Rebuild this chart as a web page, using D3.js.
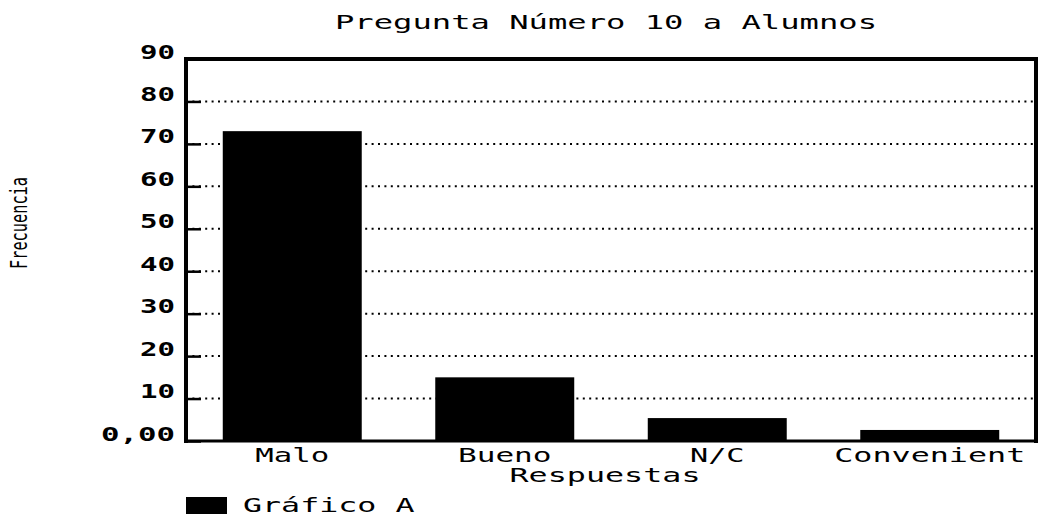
<!DOCTYPE html>
<html>
<head>
<meta charset="utf-8">
<script src="https://cdn.jsdelivr.net/npm/d3@7"></script>
<style>
  html, body { margin: 0; padding: 0; background: #fff; }
  svg { display: block; }
  text { font-family: "DejaVu Sans Mono", "Liberation Mono", monospace; fill: #000; }
</style>
</head>
<body>
<svg id="chart" width="1042" height="517"></svg>
<script>
const categories = ["Malo", "Bueno", "N/C", "Convenient"];
const values = [73, 15, 5.4, 2.6];
const yTicks = [0, 10, 20, 30, 40, 50, 60, 70, 80, 90];
const yTickLabels = ["0,00", "10", "20", "30", "40", "50", "60", "70", "80", "90"];
const title = "Pregunta Número 10 a Alumnos";
const xTitle = "Respuestas";
const yTitle = "Frecuencia";
const seriesName = "Gráfico A";

const svg = d3.select("#chart");
const L = 186, R = 1036, T = 59, B = 441;

const x = d3.scaleBand().domain(categories).range([L, R]).paddingInner(0.346).paddingOuter(0.173);
const y = d3.scaleLinear().domain([0, 90]).range([B, T]);

const ADV = 19.5;
function spaced(sel, str, fs) {
  sel.text(str)
    .attr("font-size", fs)
    .attr("textLength", str.length * ADV - 4)
    .attr("lengthAdjust", "spacingAndGlyphs");
}

// gridlines (dotted)
svg.append("g").selectAll("line").data(yTicks.filter(d => d > 0 && d < 90)).join("line")
  .attr("x1", L).attr("x2", R)
  .attr("y1", d => y(d)).attr("y2", d => y(d))
  .attr("stroke", "#000").attr("stroke-width", 2)
  .attr("stroke-dasharray", "2,4.4");

// bars
svg.append("g").selectAll("rect").data(values).join("rect")
  .attr("x", (d, i) => x(categories[i]))
  .attr("width", x.bandwidth())
  .attr("y", d => y(d))
  .attr("height", d => B - y(d))
  .attr("fill", "#000");

// y axis with inward ticks
const yAxis = d3.axisLeft(y).tickValues(yTicks).tickSize(-15).tickPadding(11)
  .tickFormat((d, i) => yTickLabels[i]);
const ga = svg.append("g").attr("transform", `translate(${L},0)`).call(yAxis);
ga.select(".domain").remove();
ga.selectAll(".tick line").attr("stroke", "#000").attr("stroke-width", 2.5);
ga.selectAll(".tick text")
  .attr("dy", "-0.05em")
  .attr("font-weight", "bold")
  .attr("font-family", "'DejaVu Sans Mono', monospace")
  .each(function(d, i) { spaced(d3.select(this), yTickLabels[i], 20); });

// frame
svg.append("line").attr("x1", L - 2).attr("x2", R + 2).attr("y1", T).attr("y2", T).attr("stroke", "#000").attr("stroke-width", 4);
svg.append("line").attr("x1", L).attr("x2", L).attr("y1", T - 2).attr("y2", B + 2).attr("stroke", "#000").attr("stroke-width", 4);
svg.append("line").attr("x1", R).attr("x2", R).attr("y1", T - 2).attr("y2", B + 2).attr("stroke", "#000").attr("stroke-width", 4);
svg.append("line").attr("x1", L - 2).attr("x2", R + 2).attr("y1", B).attr("y2", B).attr("stroke", "#000").attr("stroke-width", 3);

// x labels
svg.append("g").selectAll("text").data(categories).join("text")
  .attr("x", d => x(d) + x.bandwidth() / 2)
  .attr("y", 462)
  .attr("text-anchor", "middle")
  .each(function(d) { spaced(d3.select(this), d, 20); });

// x title
spaced(svg.append("text").attr("x", 605).attr("y", 482).attr("text-anchor", "middle"), xTitle, 20);

// title
spaced(svg.append("text").attr("x", 606).attr("y", 29).attr("text-anchor", "middle"), title, 20);

// y title
svg.append("text")
  .attr("transform", "translate(27,223) rotate(-90)")
  .attr("text-anchor", "middle")
  .attr("font-size", 23)
  .attr("textLength", 92).attr("lengthAdjust", "spacingAndGlyphs")
  .text(yTitle);

// legend
svg.append("rect").attr("x", 186).attr("y", 497).attr("width", 41).attr("height", 17).attr("fill", "#000");
spaced(svg.append("text").attr("x", 243).attr("y", 512), seriesName, 20);
</script>
</body>
</html>
